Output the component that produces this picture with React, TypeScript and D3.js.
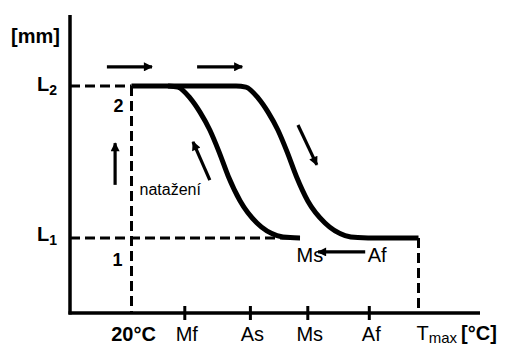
import React from 'react';
import * as d3 from 'd3';

const width = 505;
const height = 347;

// abstract temperature (x) and elongation (y) units
const tempRange = [0, 100];
const lenRange = [0, 100];
const T20 = 15;
const Tmax = 85;
const L1 = 25.2;
const L2 = 76.2;

const tickLabels = ['Mf', 'As', 'Ms', 'Af'];
const tickTemps = [28, 44, 58, 73];

// right branch (heating): top plateau -> drop -> bottom plateau to Tmax
const heatX = [T20, 40.5, 42.9, 45.9, 48.3, 50.7, 53.0, 55.2, 58.0, 62.2, 67.1, 70.2, 72.7, Tmax];
const heatY = [L2, L2, 75.8, 72.1, 67.4, 61.4, 53.9, 45.9, 37.6, 30.2, 26.0, 25.3, L1, L1];

// left branch (cooling)
const coolX = [23.9, 26.3, 29.3, 31.7, 34.1, 36.4, 38.6, 41.5, 45.6, 50.5, 53.7, 56.1];
const coolY = [L2, 75.8, 72.1, 67.4, 61.4, 53.9, 45.9, 37.6, 30.2, 26.0, 25.3, L1];

// arrows: [x1, y1, x2, y2]
const arrows = [
  [9, 82.6, 20, 82.6],
  [31, 82.6, 42, 82.6],
  [11, 43, 11, 57],
  [34.1, 44.6, 30, 57.4],
  [55.6, 63.1, 60.2, 49.7],
  [72, 20.5, 60.5, 20.5],
];

const font = '"Liberation Sans", Arial, sans-serif';

export default function App() {
  const x = d3.scaleLinear().domain(tempRange).range([70, 480]);
  const y = d3.scaleLinear().domain(lenRange).range([313, 15]);

  const line = d3
    .line<[number, number]>()
    .x((d) => x(d[0]))
    .y((d) => y(d[1]))
    .curve(d3.curveMonotoneX);

  const heatPath = line(heatX.map((v, i) => [v, heatY[i]]));
  const coolPath = line(coolX.map((v, i) => [v, coolY[i]]));

  const dash = '10,5';
  const axisY = y(0);

  return (
    <svg
      width={width}
      height={height}
      style={{ position: 'absolute', left: 0, top: 0, background: '#fff' }}
      fontFamily={font}
    >
      <defs>
        <marker
          id="ah"
          viewBox="0 0 10 10"
          refX={9}
          refY={5}
          markerUnits="userSpaceOnUse"
          markerWidth={14}
          markerHeight={9}
          orient="auto"
        >
          <path d="M0,0 L10,5 L0,10 z" fill="#000" />
        </marker>
      </defs>

      {/* dashed guides */}
      <g stroke="#000" strokeWidth={3} strokeDasharray={dash} fill="none">
        <line x1={x(0)} x2={x(T20)} y1={y(L2)} y2={y(L2)} />
        <line x1={x(T20)} x2={x(T20)} y1={y(L2)} y2={axisY} />
        <line x1={x(0)} x2={x(54)} y1={y(L1)} y2={y(L1)} />
        <line x1={x(Tmax)} x2={x(Tmax)} y1={y(L1)} y2={axisY} />
      </g>

      {/* axes */}
      <g stroke="#000" strokeWidth={3.5} fill="none">
        <line x1={x(0)} x2={x(0)} y1={y(100)} y2={axisY + 1.5} />
        <line x1={x(0) - 1.5} x2={x(100)} y1={axisY} y2={axisY} />
        {tickTemps.map((t, i) => (
          <line key={i} x1={x(t)} x2={x(t)} y1={axisY - 7} y2={axisY + 7} strokeWidth={3} />
        ))}
      </g>

      {/* curves */}
      <path d={heatPath ?? ''} stroke="#000" strokeWidth={5} fill="none" strokeLinejoin="round" />
      <path d={coolPath ?? ''} stroke="#000" strokeWidth={5} fill="none" />

      {/* arrows */}
      <g stroke="#000" strokeWidth={3.2}>
        {arrows.map((a, i) => (
          <line key={i} x1={x(a[0])} y1={y(a[1])} x2={x(a[2])} y2={y(a[3])} markerEnd="url(#ah)" />
        ))}
      </g>

      {/* y labels */}
      <text x={60} y={43} fontSize={20} fontWeight="bold" textAnchor="end">[mm]</text>
      <text x={37} y={y(L2) + 5} fontSize={20} fontWeight="bold">
        L<tspan fontSize={14} dy={4}>2</tspan>
      </text>
      <text x={37} y={y(L1) + 3} fontSize={20} fontWeight="bold">
        L<tspan fontSize={14} dy={4}>1</tspan>
      </text>
      <text x={x(T20) - 13} y={112} fontSize={18} fontWeight="bold" textAnchor="middle">2</text>
      <text x={x(T20) - 14} y={266} fontSize={18} fontWeight="bold" textAnchor="middle">1</text>
      <text x={x(T20) + 8} y={195} fontSize={16}>natažení</text>

      {/* x labels */}
      <text x={x(T20) + 2} y={341} fontSize={20} fontWeight="bold" textAnchor="middle">20°C</text>
      {tickLabels.map((l, i) => (
        <text key={l + i} x={x(tickTemps[i]) + 2} y={341} fontSize={20} textAnchor="middle">{l}</text>
      ))}
      <text x={x(Tmax) - 2} y={340} fontSize={20}>
        T<tspan fontSize={15} dy={3}>max</tspan>
        <tspan fontWeight="bold" fontSize={20} dy={-3} dx={4}>[°C]</tspan>
      </text>

      {/* bottom annotation */}
      <text x={x(58.5)} y={262} fontSize={20} textAnchor="middle">Ms</text>
      <text x={x(74.9)} y={262} fontSize={20} textAnchor="middle">Af</text>
    </svg>
  );
}
